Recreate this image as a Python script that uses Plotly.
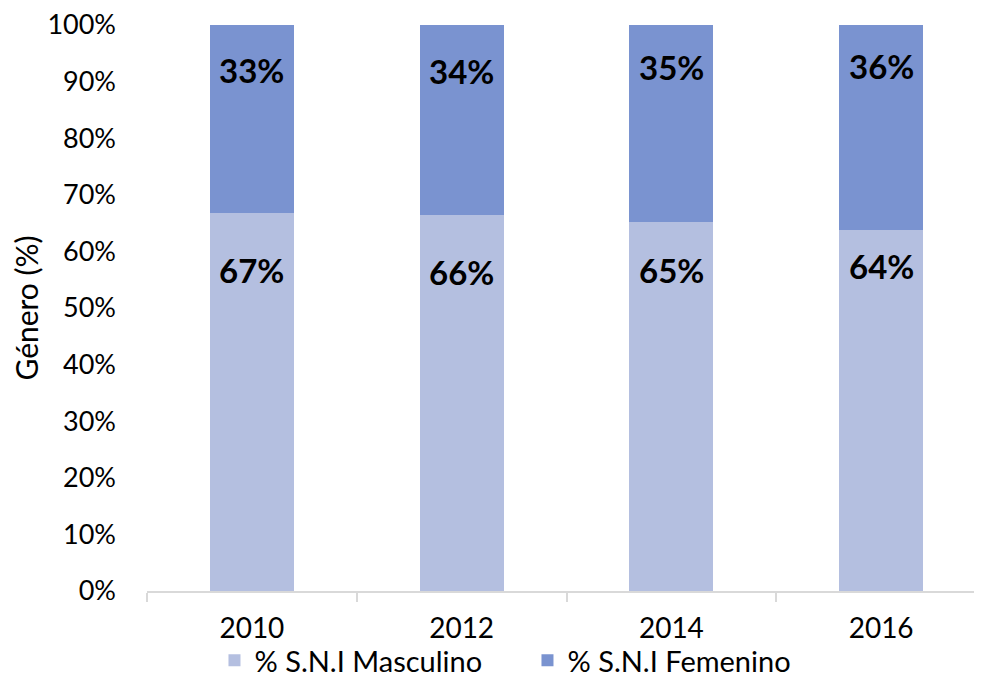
import plotly.graph_objects as go

# Datos
anios = ["2010", "2012", "2014", "2016"]
masculino = [0.668, 0.664, 0.652, 0.638]
femenino = [0.332, 0.336, 0.348, 0.362]
etiq_masc = ["67%", "66%", "65%", "64%"]
etiq_fem = ["33%", "34%", "35%", "36%"]
pos_masc = [0.567, 0.563, 0.567, 0.575]
pos_fem = [0.92, 0.918, 0.925, 0.927]

fuente = "Lato"

fig = go.Figure()
fig.add_trace(go.Bar(x=anios, y=masculino, name="% S.N.I Masculino",
                     marker=dict(color="#B4BFE0", line=dict(width=0))))
fig.add_trace(go.Bar(x=anios, y=femenino, name="% S.N.I Femenino",
                     marker=dict(color="#7A93D0", line=dict(width=0))))

# Etiquetas de datos (x = indice de categoria)
for i, (t, p) in enumerate(zip(etiq_masc, pos_masc)):
    fig.add_annotation(x=i, y=p, text="<b>%s</b>" % t, showarrow=False,
                       font=dict(size=33, color="black", family=fuente))
for i, (t, p) in enumerate(zip(etiq_fem, pos_fem)):
    fig.add_annotation(x=i, y=p, text="<b>%s</b>" % t, showarrow=False,
                       font=dict(size=33, color="black", family=fuente))

fig.update_layout(
    width=982, height=678,
    barmode="stack", bargap=0.6,
    plot_bgcolor="white", paper_bgcolor="white",
    font=dict(family=fuente, size=27, color="black"),
    margin=dict(l=139, r=4, t=17, b=95, autoexpand=False),
    legend=dict(orientation="h", traceorder="normal", bgcolor="rgba(0,0,0,0)",
                xref="container", x=0.529, xanchor="center",
                yref="container", y=-0.006, yanchor="bottom",
                font=dict(size=29), itemwidth=30, entrywidth=268),
    xaxis=dict(type="category", showline=True, linecolor="#D9D9D9", linewidth=1.5,
               ticks="outside", tickson="boundaries", ticklen=9,
               tickcolor="#D9D9D9", tickwidth=1.5, ticklabelstandoff=12,
               tickfont=dict(size=28)),
    yaxis=dict(range=[0, 1], tickformat=".0%", dtick=0.1, showgrid=False,
               showline=False, zeroline=False, ticklabelstandoff=30,
               ticklabeloverflow="allow",
               title=dict(text="Género (%)", standoff=25, font=dict(size=30))),
)

fig.write_html("out.html")
